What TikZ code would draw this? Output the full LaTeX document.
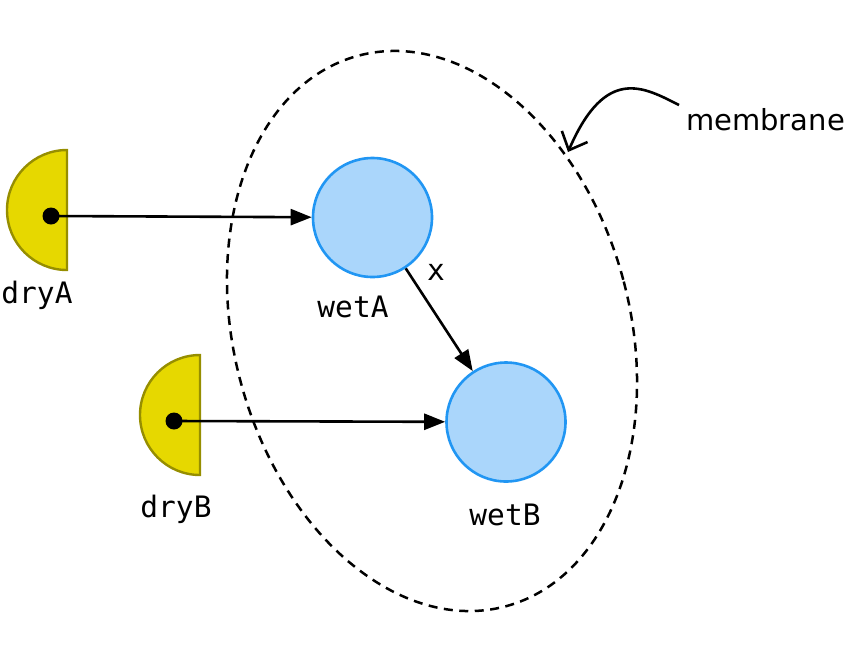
\documentclass[tikz,border=0pt]{standalone}
\usepackage{fontspec}
\setmainfont{DejaVu Sans}
\setmonofont{DejaVu Sans Mono}
\usetikzlibrary{arrows.meta}
\definecolor{dryfill}{RGB}{230,216,0}
\definecolor{dryline}{RGB}{150,142,0}
\definecolor{wetfill}{RGB}{170,214,251}
\definecolor{wetline}{RGB}{33,150,243}
\tikzset{
  drycup/.style={fill=dryfill,draw=dryline,line width=2.4pt},
  wetnode/.style={circle,fill=wetfill,draw=wetline,line width=2.6pt,minimum size=119pt,inner sep=0pt},
  dotnode/.style={circle,fill=black,minimum size=17pt,inner sep=0pt},
  lbl/.style={font=\fontsize{29.5}{34}\selectfont\ttfamily,anchor=base,inner sep=0pt},
  sidelbl/.style={font=\fontsize{29}{34}\selectfont,anchor=base west,inner sep=0pt},
  flow/.style={line width=2.6pt,-{Triangle[length=21pt,width=16pt]}},
  membr/.style={line width=2.5pt,dash pattern=on 9pt off 6.5pt},
  pointer/.style={line width=2.6pt,-{Straight Barb[length=15pt,width=28pt]}}
}
\begin{document}
\begin{tikzpicture}[x=1pt,y=-1pt]
\useasboundingbox (0,0) rectangle (850,662);
% membrane
\draw[membr,rotate around={15:(432,331)}] (432,331) ellipse [x radius=198pt, y radius=285pt];
% dry half-disks
\draw[drycup] (67,150) arc[start angle=90,end angle=270,radius=60pt] -- cycle;
\draw[drycup] (200,355) arc[start angle=90,end angle=270,radius=60pt] -- cycle;
% wet nodes
\node[wetnode] (wetA) at (372.5,217.5) {};
\node[wetnode] (wetB) at (506,422) {};
% dots
\node[dotnode] (dA) at (51,216) {};
\node[dotnode] (dB) at (174,421) {};
% connectors
\draw[flow] (dA.center) -- (wetA);
\draw[flow] (dB.center) -- (wetB);
\draw[flow] (wetA) -- (wetB);
% labels
\node[lbl] (lA) at (37,303) {dryA};
\node[lbl] (lB) at (176,517) {dryB};
\node[lbl] (lwA) at (353,317) {wetA};
\node[lbl] (lwB) at (505,525) {wetB};
\node[lbl] (lx) at (436,280) {x};
\node[sidelbl] (mem) at (686,130) {membrane};
\coordinate (mstart) at (679,105);
\coordinate (mtip) at (568,152);
\draw[pointer] (mstart) .. controls (645,88) and (606,64) .. (mtip);
\end{tikzpicture}
\end{document}
